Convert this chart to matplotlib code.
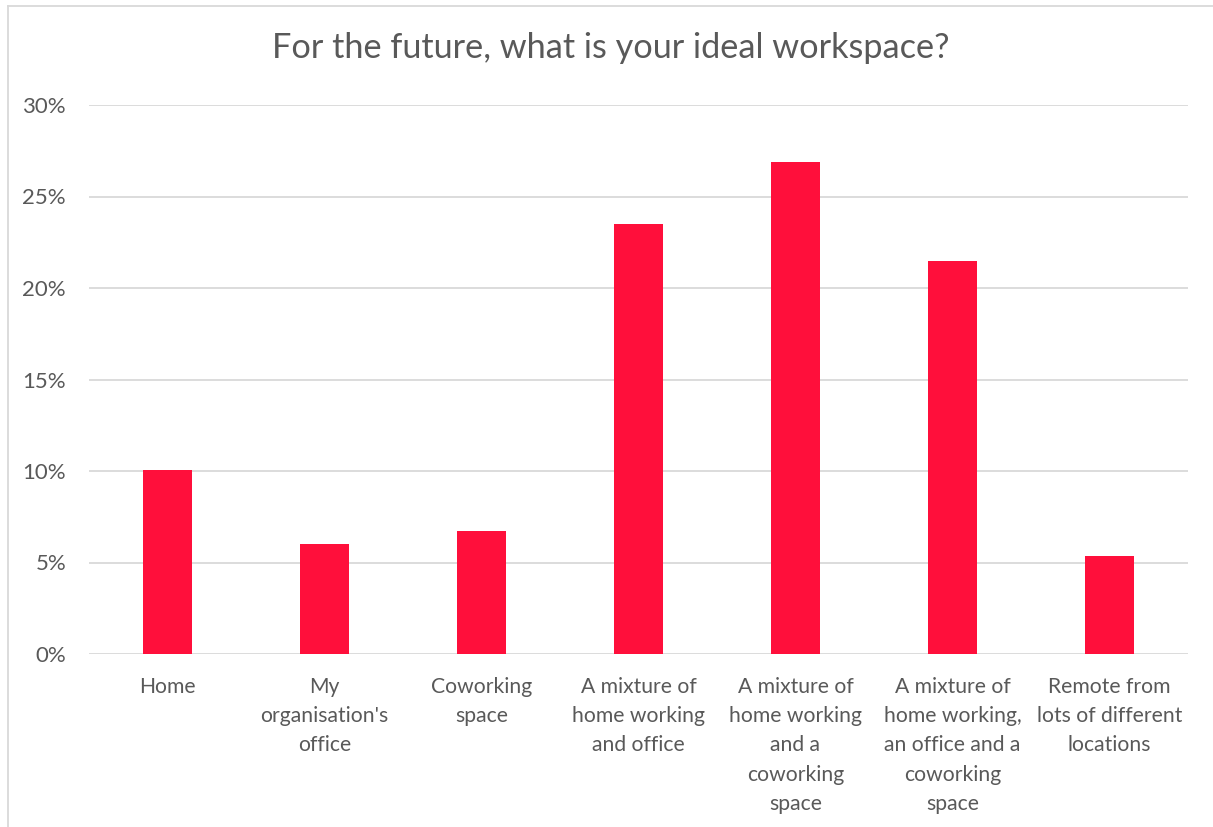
import matplotlib
matplotlib.use("Agg")
import matplotlib.pyplot as plt
from matplotlib.lines import Line2D

categories = [
    "Home",
    "My\norganisation's\noffice",
    "Coworking\nspace",
    "A mixture of\nhome working\nand office",
    "A mixture of\nhome working\nand a\ncoworking\nspace",
    "A mixture of\nhome working,\nan office and a\ncoworking\nspace",
    "Remote from\nlots of different\nlocations",
]
values = [10.05, 6.03, 6.70, 23.5, 26.87, 21.5, 5.36]
yticks = [0, 5, 10, 15, 20, 25, 30]
ytick_labels = ["0%", "5%", "10%", "15%", "20%", "25%", "30%"]
title = "For the future, what is your ideal workspace?"

W, H = 1213, 827
fig = plt.figure(figsize=(W / 100, H / 100), dpi=100)
plt.rcParams['font.family'] = ['Lato', 'DejaVu Sans']
text_color = "#595959"
grid_color = "#D9D9D9"
bar_color = "#FF0F3B"

# axes: x 89..1188, y 105..654
ax = fig.add_axes([89 / W, 1 - 654 / H, (1188 - 89) / W, (654 - 105) / H])
x = list(range(len(categories)))
ax.bar(x, values, width=0.31, color=bar_color, zorder=3)
ax.set_xlim(-0.5, len(categories) - 0.5)
ax.set_ylim(0, 30)
ax.set_yticks(yticks)
ax.set_yticklabels(ytick_labels, fontsize=16, color=text_color)
ax.set_xticks(x)
ax.set_xticklabels(categories, fontsize=15.2, color=text_color, linespacing=1.58)
ax.tick_params(axis='both', length=0)
ax.tick_params(axis='y', pad=16.5)
ax.tick_params(axis='x', pad=16.5)
ax.grid(axis='y', color=grid_color, linewidth=1.3, zorder=0)
for s in ax.spines.values():
    s.set_visible(False)

fig.text(611 / W, 1 - 48 / H, title, ha='center', va='center', fontsize=24.7, color=text_color)

# outer chart border (left and top visible)
fig.add_artist(Line2D([8 / W, 8 / W], [0, 1 - 6 / H], color=grid_color, linewidth=1.3, transform=fig.transFigure))
fig.add_artist(Line2D([8 / W, 1], [1 - 6 / H, 1 - 6 / H], color=grid_color, linewidth=1.3, transform=fig.transFigure))

fig.savefig("out.png", dpi=100, facecolor="white")
